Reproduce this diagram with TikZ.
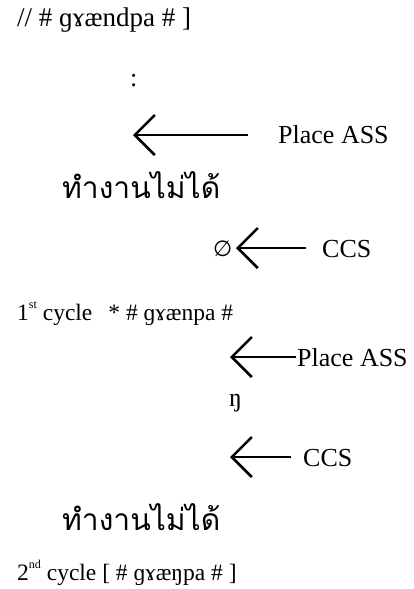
\documentclass[tikz,border=0pt]{standalone}
\usepackage{fontspec}
\setmainfont{Liberation Serif}
\newfontfamily\thaifont[Script=Thai]{Loma}
\newfontfamily\symfont{DejaVu Sans}
\usetikzlibrary{arrows.meta}
\newcommand{\ordsup}[1]{\raisebox{0.48em}{\fontsize{12}{13}\selectfont #1}}
\begin{document}
\begin{tikzpicture}[x=1pt,y=-1pt,
  txt/.style={anchor=base west, inner sep=0pt, font=\fontsize{26}{30}\selectfont},
  cyc/.style={anchor=base west, inner sep=0pt, font=\fontsize{23.5}{28}\selectfont},
  thai/.style={anchor=base west, inner sep=0pt, font=\thaifont\fontsize{30}{34}\selectfont},
  larrow/.style={line width=1.4pt, -{Straight Barb[length=20pt,width=40pt,line width=2.6pt]}}]
\useasboundingbox (0,0) rectangle (414,589);

% first form and the first application of the rules
\node[txt, font=\fontsize{27}{30}\selectfont] (l1) at (17,27) {// \# ɡɤændpa \# ]};
\node[txt] (dots) at (130,86) {:};
\coordinate (a1tip) at (133,135);
\coordinate (a1tail) at (248,135);
\node[txt] (p1) at (278,143) {Place ASS};
\draw[larrow] (a1tail) -- (a1tip);
\node[thai] (t1) at (62,198) {ทำงานไม่ได้};
\node[txt, font=\symfont\fontsize{22}{26}\selectfont] (empty) at (213,256) {∅};
\coordinate (a2tip) at (236,248);
\coordinate (a2tail) at (306,248);
\node[txt] (c1) at (322,257) {CCS};
\draw[larrow] (a2tail) -- (a2tip);

% first cycle
\node[cyc] (cyc1) at (17,320) {1\ordsup{st} cycle\hspace{16pt}* \# ɡɤænpa \#};
\coordinate (a3tip) at (230,357);
\coordinate (a3tail) at (296,357);
\node[txt] (p2) at (297,366) {Place ASS};
\draw[larrow] (a3tail) -- (a3tip);
\node[txt] (eng) at (229,406) {ŋ};
\coordinate (a4tip) at (230,457);
\coordinate (a4tail) at (291,457);
\node[txt] (c2) at (303,466) {CCS};
\draw[larrow] (a4tail) -- (a4tip);
\node[thai] (t2) at (62,530) {ทำงานไม่ได้};

% second cycle
\node[cyc] (cyc2) at (17,580) {2\ordsup{nd} cycle [ \# ɡɤæŋpa \# ]};
\end{tikzpicture}
\end{document}
